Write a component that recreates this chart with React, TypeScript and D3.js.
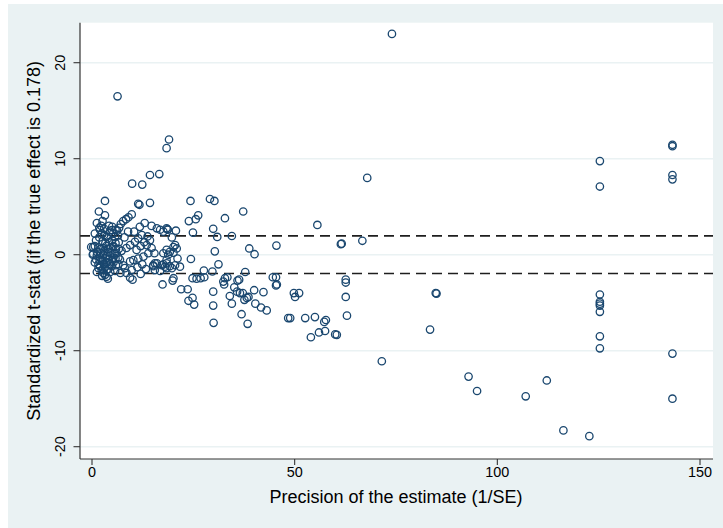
import React from 'react';
import * as d3 from 'd3';

// funnel-style scatter: precision (1/SE) vs standardized t-stat
const xTicks = [0, 50, 100, 150];
const yTicks = [-20, -10, 0, 10, 20];
const critical = [1.96, -1.96];

// points, grouped by area
const outliers = [
  [74.0, 23.0], [6.3, 16.5], [19.0, 12.0], [18.4, 11.1],
  [9.9, 7.4], [12.4, 7.3], [14.3, 8.3], [16.6, 8.4], [67.9, 8.0],
];

const denseLeft = [
  [0.7, 2.2], [0.3, 0.8], [0.2, 0.0], [-0.2, 0.8],
  [2.0, 2.57], [2.4, 2.2], [3.0, 2.05], [3.6, 1.88], [3.9, 1.7], [4.4, 2.4], [4.9, 2.57], [5.2, 2.2], [5.7, 1.88],
  [0.7, 0.9], [1.6, 0.75], [2.1, 0.6], [2.8, 0.65], [3.5, 0.9], [4.0, 0.6], [4.6, 0.75], [5.3, 0.9], [5.9, 0.6],
  [0.3, 0.1], [1.2, -0.1], [2.0, -0.3], [2.8, 0.05], [3.6, -0.15], [4.4, -0.1], [5.3, -0.3], [6.1, 0.15], [6.5, -0.3],
  [0.7, -0.8], [1.6, -1.0], [2.4, -0.5], [3.0, -1.0], [3.6, -0.8], [4.4, -1.0], [5.3, -0.8], [5.9, -1.1],
  [1.6, -1.4], [2.4, -1.6], [3.2, -1.3], [4.0, -1.5], [4.9, -1.2],
  [2.8, -1.9], [3.6, -2.3], [3.2, -2.1],
  [6.9, -0.5], [7.3, 0.4], [6.6, 1.3], [5.7, -1.7], [7.0, -1.9],
  [3.2, 5.6], [1.7, 4.5], [3.2, 4.1], [1.2, 3.3],
  [1.0, 1.5], [1.8, 1.8], [2.6, 1.4], [3.3, 1.2], [4.2, 1.3], [5.0, 1.5], [5.8, 1.2], [6.4, 2.0],
  [1.2, 0.3], [2.2, 0.2], [3.0, 0.4], [3.9, 0.3], [4.8, 0.2], [5.6, 0.1], [6.6, 0.6],
  [1.0, -0.5], [1.9, -0.6], [2.7, -0.7], [3.3, -0.4], [4.1, -0.5], [5.0, -0.6], [5.8, -0.4], [6.5, -1.0],
  [2.0, -1.2], [2.8, -1.5], [3.6, -1.6], [4.5, -1.8], [3.9, -2.5], [2.5, -2.2], [1.2, -1.8],
  [2.3, 3.0], [3.0, 2.7], [4.2, 3.0], [5.0, 2.9], [5.8, 2.6], [2.6, 3.5], [1.8, 2.8],
];

const clusterMid = [
  [11.4, 5.3], [11.7, 5.2], [14.3, 5.4],
  [9.8, 4.2], [9.0, 3.9], [8.4, 3.7], [7.7, 3.5], [7.1, 3.2], [6.7, 2.8], [6.2, 2.5],
  [14.7, 3.0], [16.0, 2.75], [16.8, 2.6], [17.6, 2.4], [18.6, 2.65], [18.4, 2.75], [18.7, 2.6], [20.7, 2.5],
  [13.7, 1.9], [14.3, 1.5], [13.5, 1.0], [14.7, 0.7], [13.9, 0.15], [12.7, -0.2], [11.4, -0.4], [10.2, -0.55],
  [9.4, -0.7], [8.5, 0.7], [9.4, 1.0], [10.6, 1.35], [11.4, 1.7], [12.3, 2.05],
  [15.1, -1.1], [16.0, -0.9], [17.2, -1.1], [18.4, -0.9], [15.5, -1.6], [16.8, -1.7], [18.0, -1.25],
  [7.7, -1.1], [8.1, -1.4], [9.8, -1.6], [8.5, -1.9], [9.4, -2.4], [10.0, -2.6],
  [19.7, 1.8], [20.5, 1.0], [20.1, 0.8], [20.9, 0.65], [18.4, 0.5], [19.2, 0.3], [18.8, 0.0], [21.1, -0.4],
  [18.4, -0.55], [19.2, -1.2], [20.5, -1.1], [21.7, -1.25], [19.7, -1.4], [18.4, -1.4], [20.1, -2.45],
  [15.4, 0.15], [17.6, 0.15], [20.1, 0.2], [15.5, -0.9], [17.6, -1.0], [15.1, -1.2],
  [17.4, -3.1], [19.9, -2.7], [22.0, -3.6], [23.6, -3.6], [23.8, -4.8], [24.8, -4.5], [25.2, -5.2],
  [11.0, 0.5], [12.0, 0.9], [12.9, 1.3], [10.4, 2.4], [11.8, 2.9], [13.0, 3.3], [8.0, 1.8], [8.9, 2.4],
  [11.2, -1.3], [12.4, -1.0], [13.3, -1.5], [12.0, -2.0],
];

const clusterRight = [
  [24.3, 5.6], [29.1, 5.8], [30.2, 5.6], [37.3, 4.5], [23.9, 3.5], [25.6, 3.7], [26.2, 4.1], [32.8, 3.8],
  [29.9, 2.7], [24.9, 2.3], [30.9, 1.85], [34.5, 1.95],
  [24.8, -2.45], [25.8, -2.5], [26.8, -2.45], [27.7, -2.35], [27.6, -1.65], [29.7, -1.75], [31.2, -1.0],
  [24.4, -0.45], [30.3, 0.35], [29.9, -3.85], [29.9, -5.3], [30.0, -7.1],
  [32.4, -2.8], [32.8, -2.45], [33.4, -2.35], [32.6, -3.1], [36.3, -2.6], [37.8, -1.8], [35.9, -2.7],
  [35.1, -3.4], [34.0, -4.3], [35.8, -3.85], [37.2, -4.0], [38.2, -4.5], [34.5, -5.1], [36.5, -4.0],
  [37.6, -4.7], [38.6, -4.4], [40.0, -3.7], [42.3, -3.9], [40.3, -5.1], [41.7, -5.5], [43.1, -5.8],
  [36.9, -6.2], [38.4, -7.2],
  [38.8, 0.65], [40.1, 0.05], [45.5, 0.95], [55.6, 3.1], [61.4, 1.1], [61.6, 1.15], [66.7, 1.45],
  [44.6, -2.35], [45.4, -2.35], [45.4, -3.2], [45.6, -3.1],
  [50.1, -4.4], [49.8, -4.0], [51.1, -4.0],
  [48.4, -6.6], [48.9, -6.6], [52.6, -6.6], [55.0, -6.5], [57.3, -7.0], [57.7, -6.8],
  [54.0, -8.6], [56.0, -8.1], [57.5, -7.95], [60.0, -8.3], [60.4, -8.35],
  [62.6, -2.6], [62.6, -2.9], [62.6, -4.4], [62.9, -6.35],
];

const highPrecision = [
  [71.5, -11.1], [84.8, -4.0], [85.0, -4.05], [83.4, -7.8],
  [92.9, -12.7], [95.0, -14.2], [107.0, -14.75], [112.2, -13.1], [116.3, -18.3], [122.7, -18.9],
  [125.3, 9.75], [125.3, 7.1], [125.3, -4.15], [125.3, -4.9], [125.3, -5.1], [125.3, -5.3],
  [125.3, -5.95], [125.3, -8.5], [125.3, -9.75],
  [143.2, 11.3], [143.2, 11.45], [143.2, 8.3], [143.2, 7.85], [143.2, -10.3], [143.2, -15.0],
];

const allPoints = [...outliers, ...denseLeft, ...clusterMid, ...clusterRight, ...highPrecision];

const W = 723;
const H = 528;
const plot = { left: 80, right: 713, top: 22.7, bottom: 459 };
const font = '"Liberation Sans", Arial, sans-serif';
const navy = '#1a476f';
const bg = '#eaf2f3';

const App = () => {
  const x = d3.scaleLinear().domain([0, 150]).range([92, 700]);
  const y = d3.scaleLinear().domain([-20, 20]).range([446.7, 62.7]);

  return (
    <svg
      width={W}
      height={H}
      style={{ position: 'absolute', left: 0, top: 0, display: 'block' }}
    >
      <rect x={0} y={0} width={W} height={H} fill='#ffffff' />
      <rect x={8} y={4} width={W - 8} height={H - 4} fill={bg} />
      <rect
        x={plot.left}
        y={plot.top}
        width={plot.right - plot.left}
        height={plot.bottom - plot.top}
        fill='#ffffff'
      />

      {/* grid */}
      {yTicks.map((t) => (
        <line
          key={'g' + t}
          x1={plot.left}
          x2={plot.right}
          y1={y(t)}
          y2={y(t)}
          stroke={bg}
          strokeWidth={1.4}
        />
      ))}

      {/* +-1.96 reference lines */}
      {critical.map((c) => (
        <line
          key={'c' + c}
          x1={plot.left}
          x2={plot.right}
          y1={y(c)}
          y2={y(c)}
          stroke='#1e1e1e'
          strokeWidth={1.6}
          strokeDasharray='10,6'
        />
      ))}

      {allPoints.map(([px, py], i) => (
        <circle
          key={i}
          cx={x(px)}
          cy={y(py)}
          r={3.7}
          fill='none'
          stroke={navy}
          strokeWidth={1.3}
        />
      ))}

      {/* axes */}
      <line x1={plot.left} x2={plot.left} y1={plot.top} y2={plot.bottom} stroke='#333' strokeWidth={1.2} />
      <line x1={plot.left} x2={plot.right} y1={plot.bottom} y2={plot.bottom} stroke='#333' strokeWidth={1.2} />

      {yTicks.map((t) => (
        <g key={'yt' + t}>
          <line x1={73.5} x2={plot.left} y1={y(t)} y2={y(t)} stroke='#333' strokeWidth={1.1} />
          <text
            transform={`translate(64.5, ${y(t)}) rotate(-90)`}
            textAnchor='middle'
            fontFamily={font}
            fontSize={14.4}
            fill='#000'
          >
            {t}
          </text>
        </g>
      ))}

      {xTicks.map((t) => (
        <g key={'xt' + t}>
          <line x1={x(t)} x2={x(t)} y1={plot.bottom} y2={plot.bottom + 6} stroke='#333' strokeWidth={1.1} />
          <text
            x={x(t)}
            y={477}
            textAnchor='middle'
            fontFamily={font}
            fontSize={14.4}
            fill='#000'
          >
            {t}
          </text>
        </g>
      ))}

      <text
        x={396}
        y={503}
        textAnchor='middle'
        fontFamily={font}
        fontSize={18}
        fill='#000'
      >
        Precision of the estimate (1/SE)
      </text>
      <text
        transform={`translate(40, ${(plot.top + plot.bottom) / 2}) rotate(-90)`}
        textAnchor='middle'
        fontFamily={font}
        fontSize={18}
        fill='#000'
      >
        Standardized t-stat (if the true effect is 0.178)
      </text>
    </svg>
  );
};

export default App;
